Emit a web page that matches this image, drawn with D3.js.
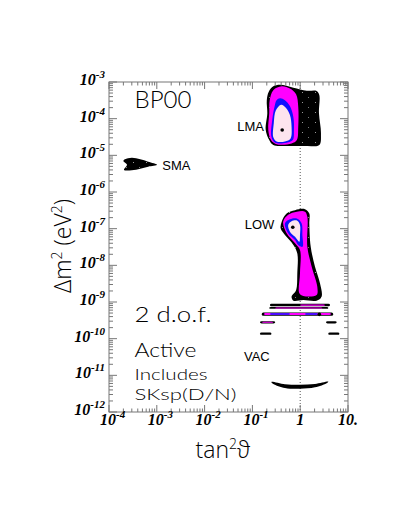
<!DOCTYPE html>
<html lang="en">
<head>
    <meta charset="UTF-8">
    <script src="https://d3js.org/d3.v7.min.js"></script>
    <title>BP00 solar neutrino fit</title>
    <style>
        body { margin: 0; background: white; }
        .tick-label { font-family: "Liberation Serif", serif; font-weight: bold; font-style: italic; fill: black; }
        .region-label { font-family: "Liberation Sans", Arial, sans-serif; font-size: 13px; fill: black; }
        .note { font-family: Lato, "DejaVu Sans", sans-serif; fill: black; }
        .axis-title { font-family: "Open Sans", "DejaVu Sans", sans-serif; font-weight: 300; font-size: 23px; fill: black; }
    </style>
</head>
<body>
<div id="chart"></div>
<script>
    // allowed regions, [tan^2 theta, delta m^2 (eV^2)]
    const smaBlack = [[2.16e-4, 7.8e-6], [3.0e-4, 8.6e-6], [4.5e-4, 7.8e-6], [6.6e-4, 6.7e-6], [1.02e-3, 5.5e-6],
        [6.6e-4, 4.9e-6], [4.5e-4, 4.3e-6], [3.0e-4, 3.9e-6], [2.06e-4, 4.0e-6], [2.38e-4, 5.5e-6], [2.0e-4, 7.0e-6]];

    const lmaBlack = [[0.22, 5.4e-4], [0.274, 7.6e-4], [0.378, 8.4e-4], [0.72, 7.0e-4], [1.37, 5.8e-4], [2.21, 5.7e-4],
        [2.51, 4.4e-4], [2.47, 1.4e-4], [2.72, 4.0e-5], [2.51, 1.9e-5], [1.37, 1.8e-5], [0.52, 1.8e-5],
        [0.274, 1.9e-5], [0.225, 2.6e-5], [0.19, 4.9e-5], [0.205, 1.4e-4], [0.2, 3.2e-4]];
    const lmaMagenta = [[0.41, 7.6e-4], [0.61, 6.6e-4], [0.82, 4.6e-4], [0.91, 2.1e-4], [0.91, 6.0e-5], [0.85, 2.6e-5],
        [0.66, 2.1e-5], [0.32, 2.0e-5], [0.245, 2.6e-5], [0.215, 4.9e-5], [0.225, 1.4e-4], [0.23, 3.2e-4], [0.274, 6.0e-4]];
    const lmaBlue = [[0.378, 3.6e-4], [0.48, 3.2e-4], [0.61, 2.2e-4], [0.72, 1.1e-4], [0.74, 4.9e-5], [0.70, 2.6e-5],
        [0.52, 2.2e-5], [0.30, 2.2e-5], [0.25, 3.2e-5], [0.26, 9.2e-5], [0.29, 2.1e-4], [0.32, 3.2e-4]];
    const lmaPink = [[0.40, 2.4e-4], [0.50, 2.0e-4], [0.61, 1.26e-4], [0.66, 6.0e-5], [0.63, 2.9e-5], [0.48, 2.4e-5],
        [0.32, 2.4e-5], [0.274, 3.1e-5], [0.28, 7.5e-5], [0.31, 1.7e-4]];

    const lowBlack = [[0.41, 1.55e-7], [0.52, 2.6e-7], [0.78, 3.2e-7], [1.26, 3.4e-7], [1.55, 2.6e-7], [1.55, 1.4e-7],
        [1.66, 3.2e-8], [2.04, 9.2e-9], [2.6, 3.2e-9], [2.8, 1.4e-9], [2.2, 1.09e-9], [1.16, 1.13e-9], [0.72, 1.09e-9],
        [0.66, 1.4e-9], [0.82, 2.1e-9], [0.87, 6.1e-9], [0.87, 2.1e-8], [0.72, 3.6e-8], [0.48, 6.7e-8], [0.39, 1.02e-7]];
    const lowMagenta = [[0.44, 1.55e-7], [0.56, 2.4e-7], [0.85, 2.9e-7], [1.26, 2.9e-7], [1.41, 2.1e-7], [1.41, 3.2e-8],
        [1.74, 9.2e-9], [2.28, 2.6e-9], [2.2, 1.55e-9], [1.16, 1.46e-9], [0.96, 1.73e-9], [0.99, 6.1e-9], [0.99, 2.6e-8],
        [0.78, 4.0e-8], [0.52, 7.5e-8]];
    const lowBlue = [[0.48, 1.4e-7], [0.61, 1.8e-7], [0.85, 1.9e-7], [1.07, 1.4e-7], [1.11, 6.7e-8], [1.12, 3.2e-8],
        [0.91, 3.6e-8], [0.78, 4.9e-8], [0.56, 7.5e-8]];
    const lowPink = [[0.56, 1.26e-7], [0.66, 1.6e-7], [0.87, 1.65e-7], [0.99, 1.26e-7], [0.99, 6.7e-8], [0.96, 4.4e-8],
        [0.78, 6.0e-8], [0.61, 8.3e-8]];

    const vacBlack = [[0.25, 6.6e-12], [0.48, 5.7e-12], [0.99, 5.5e-12], [2.04, 5.8e-12], [3.87, 6.7e-12],
        [3.58, 6.1e-12], [2.04, 4.7e-12], [0.99, 4.3e-12], [0.48, 4.5e-12], [0.274, 5.8e-12]];

    // quasi-vacuum stripes: [tanLo, tanHi, dmLo, dmHi, CL level]
    const stripes = [
        [0.233, 4.2, 7.7e-10, 9.0e-10, 3],
        [0.99, 3.3, 7.9e-10, 8.6e-10, 2],
        [0.225, 3.87, 6.5e-10, 7.3e-10, 3],
        [0.30, 2.9, 6.6e-10, 7.1e-10, 2],
        [0.157, 4.9, 4.2e-10, 5.2e-10, 3],
        [0.175, 4.4, 4.4e-10, 5.0e-10, 2],
        [0.233, 0.61, 4.5e-10, 4.9e-10, 1],
        [1.26, 2.35, 4.5e-10, 4.9e-10, 1],
        [0.144, 0.30, 2.6e-10, 3.0e-10, 3],
        [0.16, 0.27, 2.7e-10, 2.9e-10, 2],
        [3.47, 5.8, 2.6e-10, 3.0e-10, 3],
        [0.144, 0.25, 1.27e-10, 1.48e-10, 3],
        [3.87, 6.6, 1.27e-10, 1.48e-10, 3]
    ];

    const bestFits = [[0.42, 4.9e-5], [0.70, 1.09e-7], [2.51, 4.6e-10]];

    const regionLabels = [
        {text: "SMA", x: 1.3e-3, y: 4.1e-6, anchor: "start"},
        {text: "LMA", x: 0.175, y: 4.6e-5, anchor: "end"},
        {text: "LOW", x: 0.287, y: 9.5e-8, anchor: "end"},
        {text: "VAC", x: 0.0667, y: 2.5e-11, anchor: "start"}
    ];

    const xTicks = [1e-4, 1e-3, 1e-2, 1e-1, 1, 10];
    const xTickText = [["10", "-4"], ["10", "-3"], ["10", "-2"], ["10", "-1"], ["1", ""], ["10.", ""]];
    const yExponents = [-3, -4, -5, -6, -7, -8, -9, -10, -11, -12];

    // colours for CL levels: 90%, 95%, 99%, 3 sigma
    const levelColors = ["#fde4ee", "#1010ff", "#ff00ff", "black"];

    /*------------------- setup --------------------*/
    const width = 409, height = 529;
    const plotLeft = 109, plotRight = 348, plotTop = 82, plotBottom = 412;

    const svg = d3.select("#chart").append("svg")
        .attr("width", width)
        .attr("height", height);

    const x = d3.scaleLog().domain([1e-4, 10]).range([plotLeft, plotRight]);
    const y = d3.scaleLog().domain([1e-12, 1e-3]).range([plotBottom, plotTop]);

    // speckled black fill
    const pat = svg.append("defs").append("pattern")
        .attr("id", "speckle")
        .attr("patternUnits", "userSpaceOnUse")
        .attr("width", 13).attr("height", 10);
    pat.append("rect").attr("width", 13).attr("height", 10).attr("fill", "black");
    pat.append("rect").attr("x", 3).attr("y", 2).attr("width", 1).attr("height", 1).attr("fill", "#999");
    pat.append("rect").attr("x", 9).attr("y", 7).attr("width", 1).attr("height", 1).attr("fill", "#777");

    // dotted line at maximal mixing
    svg.append("line")
        .attr("x1", x(1)).attr("x2", x(1))
        .attr("y1", plotTop).attr("y2", plotBottom)
        .attr("stroke", "#555")
        .attr("stroke-dasharray", "1,2");

    const area = d3.line()
        .x(d => x(d[0]))
        .y(d => y(d[1]))
        .curve(d3.curveCatmullRomClosed.alpha(0.5));

    const regions = [
        [smaBlack, "url(#speckle)"],
        [lmaBlack, "url(#speckle)"], [lmaMagenta, levelColors[2]], [lmaBlue, levelColors[1]], [lmaPink, levelColors[0]],
        [lowBlack, "url(#speckle)"], [lowMagenta, levelColors[2]], [lowBlue, levelColors[1]], [lowPink, levelColors[0]],
        [vacBlack, "black"]
    ];

    svg.append("g").selectAll("path")
        .data(regions)
        .enter()
        .append("path")
        .attr("d", d => area(d[0]))
        .attr("fill", d => d[1]);

    svg.append("g").selectAll("rect")
        .data(stripes)
        .enter()
        .append("rect")
        .attr("x", d => x(d[0]))
        .attr("width", d => x(d[1]) - x(d[0]))
        .attr("y", d => y(d[3]))
        .attr("height", d => y(d[2]) - y(d[3]))
        .attr("rx", 1.5)
        .attr("fill", d => levelColors[d[4]]);

    svg.append("g").selectAll("circle")
        .data(bestFits)
        .enter()
        .append("circle")
        .attr("cx", d => x(d[0]))
        .attr("cy", d => y(d[1]))
        .attr("r", 1.8)
        .attr("fill", "black");

    /*------------------- frame and ticks --------------------*/
    const frame = svg.append("g").attr("stroke", "#777").attr("fill", "none");
    frame.append("rect")
        .attr("x", plotLeft).attr("y", plotTop)
        .attr("width", plotRight - plotLeft).attr("height", plotBottom - plotTop);

    const minor = [];
    [1e-4, 1e-3, 1e-2, 1e-1, 1].forEach(d => {
        for (let k = 2; k < 10; k++) minor.push(d * k);
    });
    xTicks.forEach(t => {
        frame.append("line").attr("x1", x(t)).attr("x2", x(t)).attr("y1", plotBottom).attr("y2", plotBottom - 7);
        frame.append("line").attr("x1", x(t)).attr("x2", x(t)).attr("y1", plotTop).attr("y2", plotTop + 7);
    });
    minor.forEach(t => {
        frame.append("line").attr("x1", x(t)).attr("x2", x(t)).attr("y1", plotBottom).attr("y2", plotBottom - 3.5);
        frame.append("line").attr("x1", x(t)).attr("x2", x(t)).attr("y1", plotTop).attr("y2", plotTop + 3.5);
    });

    yExponents.forEach(e => {
        const v = Math.pow(10, e);
        frame.append("line").attr("x1", plotLeft).attr("x2", plotLeft + 8).attr("y1", y(v)).attr("y2", y(v));
        frame.append("line").attr("x1", plotRight).attr("x2", plotRight - 8).attr("y1", y(v)).attr("y2", y(v));
        if (e > -12) {
            for (let k = 2; k < 10; k++) {
                const yy = y(v * k / 10);
                frame.append("line").attr("x1", plotLeft).attr("x2", plotLeft + 4).attr("y1", yy).attr("y2", yy);
                frame.append("line").attr("x1", plotRight).attr("x2", plotRight - 4).attr("y1", yy).attr("y2", yy);
            }
        }
    });

    // y tick labels
    yExponents.forEach(e => {
        const t = svg.append("text")
            .attr("class", "tick-label")
            .attr("x", plotLeft - 4)
            .attr("y", y(Math.pow(10, e)) + 3)
            .attr("text-anchor", "end")
            .style("font-size", "16px");
        t.append("tspan").text("10");
        t.append("tspan").attr("dy", -7).style("font-size", "11px").text("-" + Math.abs(e));
    });

    // x tick labels
    xTicks.forEach((v, i) => {
        const lab = xTickText[i];
        const t = svg.append("text")
            .attr("class", "tick-label")
            .attr("y", plotBottom + 13)
            .style("font-size", "16px");
        if (lab[1]) {
            t.attr("x", x(v) - 9).attr("text-anchor", "start");
            t.append("tspan").text(lab[0]);
            t.append("tspan").attr("dy", -7).style("font-size", "11px").text(lab[1]);
        } else {
            t.attr("x", x(v)).attr("text-anchor", "middle").text(lab[0]);
        }
    });

    /*------------------- texts --------------------*/
    svg.append("g").selectAll("text")
        .data(regionLabels)
        .enter()
        .append("text")
        .attr("class", "region-label")
        .attr("x", d => x(d.x))
        .attr("y", d => y(d.y))
        .attr("text-anchor", d => d.anchor)
        .text(d => d.text);

    // text, baseline, size, weight, width
    const notes = [
        ["BP00", 108, 23, 300, 57], ["2 d.o.f.", 321.5, 22, 300, 77], ["Active", 356.7, 19, 300, 62],
        ["Includes", 380, 16, 300, 73], ["SKsp(D/N)", 400, 16.5, 300, 102]
    ];
    notes.forEach(n => {
        svg.append("text").attr("class", "note")
            .attr("x", 134.5).attr("y", n[1])
            .style("font-size", n[2] + "px")
            .style("font-weight", n[3])
            .attr("textLength", n[4])
            .attr("lengthAdjust", "spacingAndGlyphs")
            .text(n[0]);
    });

    const xt = svg.append("text").attr("class", "axis-title")
        .attr("x", 223).attr("y", 458)
        .attr("text-anchor", "middle");
    xt.append("tspan").text("tan");
    xt.append("tspan").attr("dy", -9).style("font-size", "14px").text("2");
    xt.append("tspan").attr("dy", 9).text("\u03D1");

    const yt = svg.append("text").attr("class", "axis-title")
        .attr("transform", "translate(71,246) rotate(-90)")
        .attr("text-anchor", "middle");
    yt.append("tspan").text("\u0394m");
    yt.append("tspan").attr("dy", -9).style("font-size", "14px").text("2");
    yt.append("tspan").attr("dy", 9).text(" (eV");
    yt.append("tspan").attr("dy", -9).style("font-size", "14px").text("2");
    yt.append("tspan").attr("dy", 9).text(")");
</script>
</body>
</html>
